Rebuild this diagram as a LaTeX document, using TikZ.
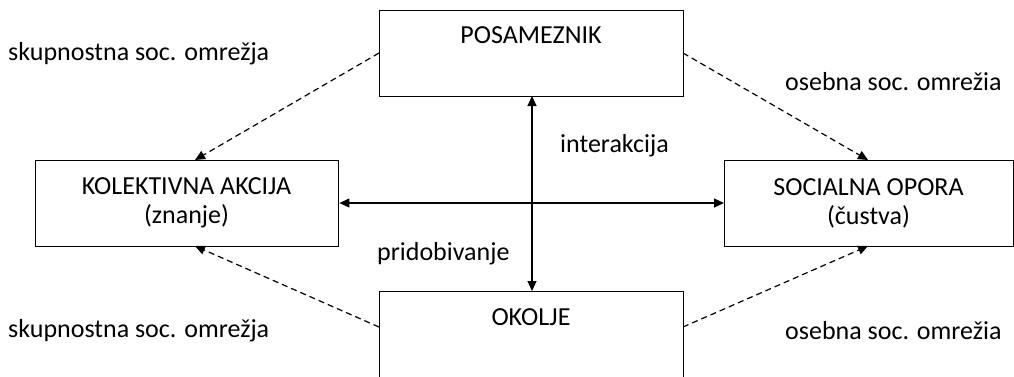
\documentclass[tikz,border=0pt]{standalone}
\usepackage{fontspec}
\setmainfont{Carlito}
\usetikzlibrary{arrows.meta}
\begin{document}
\begin{tikzpicture}[x=1pt,y=-1pt,
  box/.style={draw=black,line width=1.4pt,inner sep=0pt,anchor=north west},
  lbl/.style={font=\fontsize{26}{29}\selectfont,inner sep=0pt},
  conn/.style={line width=1.1pt,{Triangle[length=10pt,width=9pt]}-{Triangle[length=10pt,width=9pt]}},
  dsh/.style={line width=1.2pt,dashed,dash pattern=on 6pt off 4pt,-{Triangle[length=10pt,width=9pt]}}]
\useasboundingbox (0,0) rectangle (1014,376);
\node[box,minimum width=304pt,minimum height=86pt] (pos) at (379,10) {};
\node[lbl] at (531,35) {POSAMEZNIK};
\node[box,minimum width=303pt,minimum height=86pt] (kol) at (35,160) {};
\node[lbl,align=center] at (186.5,203) {KOLEKTIVNA AKCIJA\\(znanje)};
\node[box,minimum width=289pt,minimum height=86pt] (soc) at (724,160) {};
\node[lbl,align=center] at (868.5,203) {SOCIALNA OPORA\\(čustva)};
\node[box,minimum width=304pt,minimum height=90pt] (oko) at (379,291) {};
\node[lbl] at (531,317) {OKOLJE};
\coordinate (pl) at (379,53);
\coordinate (pr) at (683,53);
\coordinate (ol) at (379,327);
\coordinate (or) at (683,327);
\coordinate (kt) at (195,160);
\coordinate (kb) at (195,246);
\coordinate (st) at (868,160);
\coordinate (sb) at (868,246);
\coordinate (vt) at (532,96);
\coordinate (vb) at (532,291);
\draw[conn] (vt) -- (vb);
\draw[conn] (kol.east |- 0,203) -- (soc.west |- 0,203);
\draw[dsh] (pl) -- (kt);
\draw[dsh] (pr) -- (st);
\draw[dsh] (ol) -- (kb);
\draw[dsh] (or) -- (sb);
\node[lbl,anchor=west] (l1) at (8,54) {skupnostna soc. omrežja};
\node[lbl,anchor=west] (l2) at (785,82) {osebna soc. omrežia};
\node[lbl,anchor=west] (l3) at (560,146) {interakcija};
\node[lbl,anchor=west] (l4) at (377,254) {pridobivanje};
\node[lbl,anchor=west] (l5) at (8,331) {skupnostna soc. omrežja};
\node[lbl,anchor=west] (l6) at (785,331) {osebna soc. omrežia};
\end{tikzpicture}
\end{document}
